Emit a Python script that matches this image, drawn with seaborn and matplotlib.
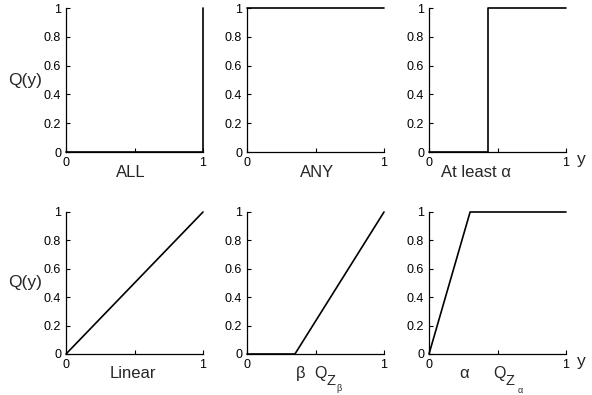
import numpy as np
import pandas as pd
import seaborn as sns
import matplotlib.pyplot as plt

# quantifier curves Q(y)
all_x = [0, 1, 1]
all_q = [0, 0, 1]
any_x = [0, 1]
any_q = [1, 1]
atleast_x = [0, 0.43, 0.43, 1]
atleast_q = [0, 0, 1, 1]
linear_x = [0, 1]
linear_q = [0, 1]
qzb_x = [0, 0.35, 1]
qzb_q = [0, 0, 1]
qza_x = [0, 0.3, 1]
qza_q = [0, 1, 1]

panel_names = ['ALL', 'ANY', 'At least \u03b1', 'Linear']
y_ticks = [0, 0.2, 0.4, 0.6, 0.8, 1]
y_tick_labels = ['0', '0.2', '0.4', '0.6', '0.8', '1']

sns.set_style('ticks')
plt.rcParams['font.family'] = ['Liberation Sans', 'DejaVu Sans']

fig = plt.figure(figsize=(5.92, 3.95), dpi=100)

lefts = [66 / 592, 247 / 592, 429 / 592]
w = 137 / 592
rows = [((395 - 152) / 395, 144 / 395), ((395 - 354) / 395, 142 / 395)]

curves = [(all_x, all_q), (any_x, any_q), (atleast_x, atleast_q),
          (linear_x, linear_q), (qzb_x, qzb_q), (qza_x, qza_q)]

axes = []
for b, h in rows:
    for l in lefts:
        axes.append(fig.add_axes([l, b, w, h]))

for i, ax in enumerate(axes):
    xs, qs = curves[i]
    df = pd.DataFrame({'y': xs, 'Q': qs})
    sns.lineplot(data=df, x='y', y='Q', ax=ax, sort=False, estimator=None,
                 color='black', linewidth=1.2, clip_on=False, zorder=5)
    ax.set_xlim(0, 1)
    ax.set_ylim(0, 1)
    ax.set_xticks([0, 0.5, 1])
    ax.set_xticklabels(['0', '', '1'])
    ax.set_yticks(y_ticks)
    ax.set_yticklabels(y_tick_labels)
    ax.tick_params(direction='in', length=3, width=0.8, labelsize=9,
                   color='black', labelcolor='black', pad=3.5)
    ax.set_xlabel('')
    ax.set_ylabel('')
    for s in ['left', 'bottom']:
        ax.spines[s].set_linewidth(0.9)
        ax.spines[s].set_color('black')
    sns.despine(ax=ax)

trans = [ax.get_xaxis_transform() for ax in axes]
label_x = [0.47, 0.51, 0.34, 0.49]
for i in range(4):
    axes[i].text(label_x[i], -0.14, panel_names[i], transform=trans[i],
                 ha='center', va='center', fontsize=12)

# bottom-middle and bottom-right annotations: beta / alpha and Q_Z with subscripts
def q_label(ax, tr, greek, gx, qx, zx, sx, sy):
    ax.text(gx, -0.14, greek, transform=tr, ha='center', va='center', fontsize=12)
    ax.text(qx, -0.134, 'Q', transform=tr, ha='left', va='center', fontsize=11.5)
    ax.text(zx, -0.19, 'Z', transform=tr, ha='left', va='center', fontsize=10.5)
    ax.text(sx, sy, greek, transform=tr, ha='left', va='center', fontsize=6.5)

q_label(axes[4], trans[4], '\u03b2', 0.39, 0.49, 0.58, 0.65, -0.245)
q_label(axes[5], trans[5], '\u03b1', 0.255, 0.467, 0.555, 0.645, -0.255)

# axis titles
for ax in [axes[0], axes[3]]:
    ax.text(-0.3, 0.5, 'Q(y)', transform=ax.transAxes, ha='center',
            va='center', fontsize=12.5)
for ax in [axes[2], axes[5]]:
    ax.text(1.11, -0.05, 'y', transform=ax.transAxes, ha='center',
            va='center', fontsize=12.5)

fig.savefig('out.png', dpi=100)
